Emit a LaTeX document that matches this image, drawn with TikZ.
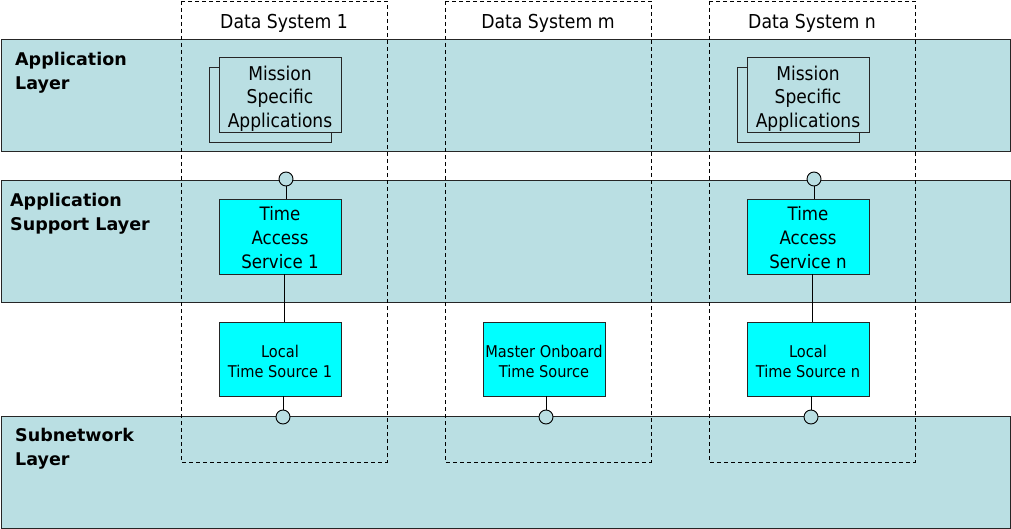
\documentclass[tikz,border=0pt]{standalone}
\usepackage{fontspec}
\setmainfont{DejaVu Sans Condensed}
\newfontfamily\labfont{DejaVu Sans}
\begin{document}
\begin{tikzpicture}[x=1pt,y=-1pt,
  layer/.style={draw=black!85,fill=layerblue,line width=0.9pt},
  dsbox/.style={draw=black,dash pattern=on 4pt off 3pt,line width=0.9pt},
  dstitle/.style={font=\fontsize{19.2}{22}\selectfont,inner sep=0pt},
  laylabel/.style={font=\labfont\bfseries\fontsize{17.5}{24}\selectfont,align=left,anchor=west,inner sep=0pt},
  appbox/.style={draw=black!85,fill=layerblue,line width=0.9pt,minimum width=122pt,minimum height=75pt,inner sep=0pt},
  apptext/.style={inner sep=0pt,align=center,font=\fontsize{19}{23.5}\selectfont},
  svcbox/.style={draw=black!85,fill=cyan,line width=0.9pt,minimum width=122pt,minimum height=75pt,inner sep=0pt},
  svctext/.style={inner sep=0pt,align=center,font=\fontsize{18.5}{24}\selectfont},
  srcbox/.style={draw=black!85,fill=cyan,line width=0.9pt,minimum width=122pt,minimum height=74pt,inner sep=0pt},
  srctext/.style={inner sep=0pt,align=center,font=\fontsize{16.2}{20}\selectfont},
  port/.style={circle,draw=black,fill=layerblue,line width=0.9pt,minimum size=14pt,inner sep=0pt},
  conn/.style={draw=black,line width=0.9pt}]
\definecolor{layerblue}{RGB}{186,223,227}
\definecolor{cyan}{RGB}{0,255,255}
\useasboundingbox (0,0) rectangle (1011,529);
% layers
\draw[layer] (1,39) rectangle (1010,151);
\draw[layer] (1,180) rectangle (1010,302);
\draw[layer] (1,416) rectangle (1010,528);
\node[laylabel] (l1) at (15,72.5) {Application\\Layer};
\node[laylabel] (l2) at (10,213.5) {Application\\Support Layer};
\node[laylabel] (l3) at (15,449) {Subnetwork\\Layer};
% data systems
\draw[dsbox] (181,1) rectangle (387,462);
\draw[dsbox] (445,1) rectangle (651,462);
\draw[dsbox] (709,1) rectangle (915,462);
\node[dstitle] (t1) at (284,23) {Data System 1};
\node[dstitle] (tm) at (548,23) {Data System m};
\node[dstitle] (tn) at (812,23) {Data System n};
% mission specific applications
\draw[draw=black!85,line width=0.9pt,fill=layerblue] (209,67) rectangle (331,142);
\node[appbox] (msa1) at (280,95) {};
\node[apptext] (msa1t) at (280,98.5) {Mission\\Specific\\Applications};
\draw[draw=black!85,line width=0.9pt,fill=layerblue] (737,67) rectangle (859,142);
\node[appbox] (msan) at (808,95) {};
\node[apptext] (msant) at (808,98.5) {Mission\\Specific\\Applications};
% services
\node[svcbox] (tas1) at (280,236.5) {};
\node[svctext] (tas1t) at (280,237.5) {Time\\Access\\Service 1};
\node[svcbox] (tasn) at (808,236.5) {};
\node[svctext] (tasnt) at (808,237.5) {Time\\Access\\Service n};
% sources
\node[srcbox] (lts1) at (280,359) {};
\node[srctext] (lts1t) at (280,361) {Local\\Time Source 1};
\node[srcbox] (mots) at (544,359) {};
\node[srctext] (motst) at (544,361) {Master Onboard\\Time Source};
\node[srcbox] (ltsn) at (808,359) {};
\node[srctext] (ltsnt) at (808,361) {Local\\Time Source n};
% ports
\node[port] (p1t) at (286,179) {};
\node[port] (pnt) at (814,179) {};
\node[port] (p1b) at (283,417) {};
\node[port] (pmb) at (546,417) {};
\node[port] (pnb) at (811,417) {};
% connectors
\draw[conn] (p1t) -- (p1t |- tas1.north);
\draw[conn] (pnt) -- (pnt |- tasn.north);
\coordinate (c1) at (284,0);
\coordinate (cn) at (812,0);
\draw[conn] (c1 |- tas1.south) -- (c1 |- lts1.north);
\draw[conn] (cn |- tasn.south) -- (cn |- ltsn.north);
\draw[conn] (p1b |- lts1.south) -- (p1b);
\draw[conn] (pmb |- mots.south) -- (pmb);
\draw[conn] (pnb |- ltsn.south) -- (pnb);
\end{tikzpicture}
\end{document}
